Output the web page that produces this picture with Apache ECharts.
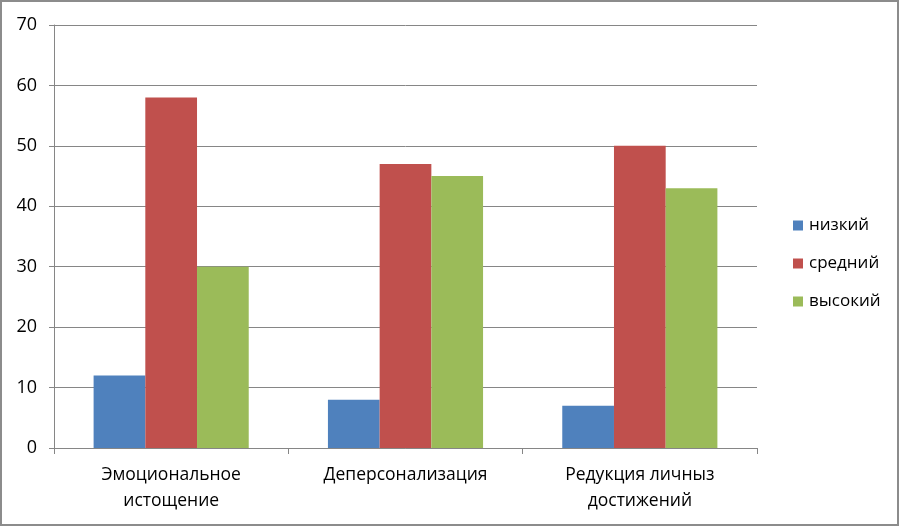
<!DOCTYPE html>
<html>
<head>
<meta charset="utf-8">
<script src="https://cdn.jsdelivr.net/npm/echarts@6/dist/echarts.min.js"></script>
<style>
  html, body { margin: 0; padding: 0; background: #fff; }
  #chart { width: 902px; height: 527px; }
</style>
</head>
<body>
<div id="chart"></div>
<script>
// categories and values
const categories = ['Эмоциональное\nистощение', 'Деперсонализация', 'Редукция личныз\nдостижений'];
const nizkiy = [12, 8, 7];
const sredniy = [58, 47, 50];
const vysokiy = [30, 45, 43];
const seriesNames = ['низкий', 'средний', 'высокий'];
const colors = ['#4F81BD', '#C0504D', '#9BBB59'];

const font = '"Open Sans", Lato, sans-serif';
const chart = echarts.init(document.getElementById('chart'));

const option = {
  animation: false,
  color: colors,
  textStyle: { fontFamily: font },
  graphic: [{
    type: 'rect',
    shape: { x: 1, y: 1, width: 897, height: 524 },
    style: { fill: 'none', stroke: '#8c8c8c', lineWidth: 2 },
    silent: true
  }],
  grid: { left: 54, right: 145, top: 25, bottom: 79 },
  legend: {
    orient: 'vertical',
    left: 788,
    top: 210,
    itemWidth: 10,
    itemHeight: 10,
    itemGap: 17,
    icon: 'rect',
    textStyle: { fontSize: 17, color: '#000', fontFamily: font, lineHeight: 21, padding: [0, 0, 0, 1] },
    data: seriesNames
  },
  xAxis: {
    type: 'category',
    data: categories,
    axisLine: { lineStyle: { color: '#868686', width: 1 } },
    axisTick: { show: true, length: 6, alignWithLabel: false, lineStyle: { color: '#868686' } },
    axisLabel: { fontSize: 17.5, color: '#000', lineHeight: 26, margin: 14, interval: 0 }
  },
  yAxis: {
    type: 'value',
    min: 0,
    max: 70,
    interval: 10,
    axisLine: { show: true, lineStyle: { color: '#868686' } },
    axisTick: { show: true, length: 5, lineStyle: { color: '#868686' } },
    axisLabel: { fontSize: 18, color: '#000', margin: 17 },
    splitLine: { lineStyle: { color: '#868686', width: 1 } }
  },
  series: [
    { name: seriesNames[0], type: 'bar', data: nizkiy, barGap: '0%', barCategoryGap: '33.8%' },
    { name: seriesNames[1], type: 'bar', data: sredniy, barGap: '0%', barCategoryGap: '33.8%' },
    { name: seriesNames[2], type: 'bar', data: vysokiy, barGap: '0%', barCategoryGap: '33.8%' }
  ]
};

chart.setOption(option);
</script>
</body>
</html>
